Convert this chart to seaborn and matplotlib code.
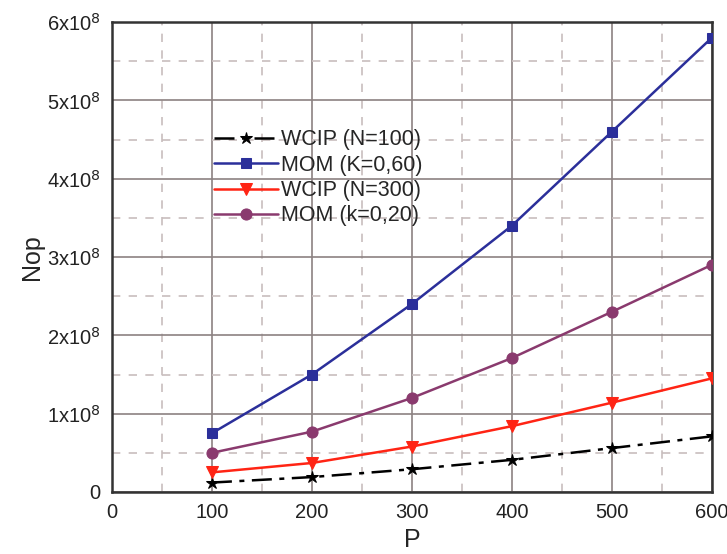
import matplotlib
matplotlib.use("Agg")
import matplotlib.pyplot as plt
import numpy as np
import pandas as pd
import seaborn as sns

# values (units of 1e8)
p_values = [100, 200, 300, 400, 500, 600]
wcip_n100 = [0.12, 0.19, 0.29, 0.41, 0.56, 0.71]
mom_k060 = [0.75, 1.50, 2.40, 3.40, 4.60, 5.80]
wcip_n300 = [0.25, 0.37, 0.58, 0.84, 1.14, 1.45]
mom_k020 = [0.50, 0.77, 1.20, 1.71, 2.30, 2.90]

series = [
    ("WCIP (N=100)", wcip_n100, "black", "*", (0, (8, 3, 2, 3)), 9),
    ("MOM (K=0,60)", mom_k060, "#2B2F9A", "s", "-", 7),
    ("WCIP (N=300)", wcip_n300, "#FF2414", "v", "-", 8),
    ("MOM (k=0,20)", mom_k020, "#8A3A6E", "o", "-", 8),
]

sns.set_style("white")
plt.rcParams["font.family"] = ["Liberation Sans", "DejaVu Sans"]

fig = plt.figure(figsize=(7.27, 5.54), dpi=100)
ax = fig.add_axes([0.154, 0.112, 0.825, 0.848])

for name, vals, color, marker, ls, ms in series:
    df = pd.DataFrame({"P": p_values, "Nop": np.array(vals) * 1e8})
    sns.lineplot(data=df, x="P", y="Nop", ax=ax, color=color, marker=marker,
                 markersize=ms, markeredgecolor=color, linestyle=ls,
                 linewidth=1.8, label=name, zorder=3)

ax.set_xlim(0, 600)
ax.set_ylim(0, 6e8)
ax.set_xticks(np.arange(0, 601, 100))
ax.set_xticks(np.arange(50, 600, 100), minor=True)
ax.set_yticks(np.arange(0, 6.01e8, 1e8))
ax.set_yticks(np.arange(0.5e8, 6e8, 1e8), minor=True)
ax.set_yticklabels(["0"] + [f"{i}x10$^{{8}}$" for i in range(1, 7)])

ax.grid(which="major", color="#8C8282", linestyle="-", linewidth=1.2, zorder=0)
ax.grid(which="minor", color="#C8BEBE", linestyle=(0, (5, 5)), linewidth=1.2, zorder=0)
ax.set_axisbelow(True)
ax.tick_params(which="both", length=0, labelsize=14.5, pad=8, colors="#222222")

for sp in ax.spines.values():
    sp.set_visible(True)
    sp.set_color("#333333")
    sp.set_linewidth(1.8)

ax.set_xlabel("P", fontsize=18, labelpad=4)
ax.set_ylabel("Nop", fontsize=18, labelpad=2)

leg = ax.legend(loc="upper left", bbox_to_anchor=(0.155, 0.79), frameon=False,
                fontsize=15.5, handlelength=3.0, handletextpad=0.15,
                labelspacing=0.2, borderaxespad=0)

fig.savefig("out.png", dpi=100)
